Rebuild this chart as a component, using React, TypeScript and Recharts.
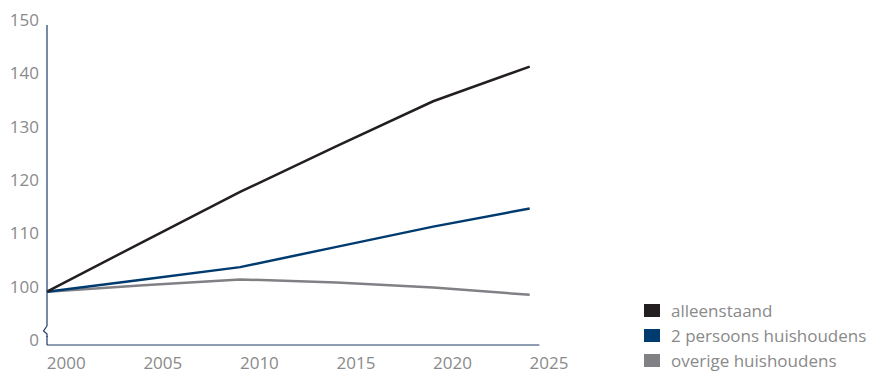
import React from 'react';
import { LineChart, Line, XAxis, YAxis, ReferenceLine } from 'recharts';

const years = [1999, 2004, 2009, 2014, 2019, 2024];
const alleenstaand = [100, 109.4, 118.7, 127.3, 135.7, 142.2];
const tweePersoons = [100, 102.3, 104.6, 108.4, 112.2, 115.6];
const overige = [100, 101.2, 102.3, 101.7, 100.8, 99.4];
const xTicks = [2000, 2005, 2010, 2015, 2020, 2025];
const yTicks = [90, 100, 110, 120, 130, 140, 150];
const yLabels: Record<number, string> = { 90: '0', 100: '100', 110: '110', 120: '120', 130: '130', 140: '140', 150: '150' };

const seriesNames = ['alleenstaand', '2 persoons huishoudens', 'overige huishoudens'];
const seriesColors = ['#231f20', '#003b6f', '#808085'];

const data = years.map((y, i) => ({
  year: y,
  a: alleenstaand[i],
  b: tweePersoons[i],
  c: overige[i],
}));

const FONT = '"Open Sans", sans-serif';
const TXT = '#8a8a8a';
const AXIS = '#1f3d66';

const YTick = (props: any) => {
  const { x, y, payload } = props;
  const ax = x + 8;
  return (
    <g>
      {payload.value === 90 && (
        <g>
          <rect x={ax - 1} y={y - 19} width={3} height={10} fill="#fff" />
          <path d={`M${ax},${y - 19} L${ax - 3.5},${y - 14} L${ax},${y - 11} L${ax},${y - 8}`} stroke={AXIS} strokeWidth={1.2} fill="none" />
        </g>
      )}
      <text x={x} y={y - 5} dy="0.355em" textAnchor="end" fill={TXT} fontSize={17} fontFamily={FONT}>
        {yLabels[payload.value]}
      </text>
    </g>
  );
};

const LegendBlock = () => (
  <div style={{ position: 'absolute', left: 644, top: 298, fontFamily: FONT, fontSize: 17, color: TXT }}>
    {seriesNames.map((n, i) => (
      <div key={n} style={{ display: 'flex', alignItems: 'center', height: 25 }}>
        <div style={{ width: 16, height: 13, background: seriesColors[i], marginRight: 11 }} />
        <span style={{ lineHeight: '25px', whiteSpace: 'nowrap' }}>{n}</span>
      </div>
    ))}
  </div>
);

export default function App() {
  return (
    <div style={{ position: 'absolute', left: 0, top: 0, width: 870, height: 374, background: '#fff' }}>
      <LineChart width={870} height={374} data={data} margin={{ top: 25, right: 321, bottom: 0, left: 0 }}>
        <XAxis
          dataKey="year"
          type="number"
          domain={[1999, 2025]}
          ticks={xTicks}
          axisLine={false}
          tickLine={false}
          tickSize={0}
          tickMargin={12}
          height={29}
          interval={0}
          tick={{ fill: TXT, fontSize: 17, fontFamily: FONT }}
        />
        <YAxis
          type="number"
          domain={[90, 150]}
          ticks={yTicks}
          width={47}
          tickLine={false}
          tickSize={0}
          tickMargin={8}
          axisLine={{ stroke: AXIS, strokeWidth: 1.2 }}
          tick={<YTick />}
          interval={0}
        />
        <ReferenceLine
          segment={[{ x: 1999, y: 90 }, { x: 2024.5, y: 90 }]}
          stroke={AXIS}
          strokeWidth={1.2}
          ifOverflow="visible"
        />
        <Line dataKey="c" stroke={seriesColors[2]} strokeWidth={2.5} dot={false} isAnimationActive={false} />
        <Line dataKey="b" stroke={seriesColors[1]} strokeWidth={2.5} dot={false} isAnimationActive={false} />
        <Line dataKey="a" stroke={seriesColors[0]} strokeWidth={2.5} dot={false} isAnimationActive={false} />
      </LineChart>
      <LegendBlock />
    </div>
  );
}
